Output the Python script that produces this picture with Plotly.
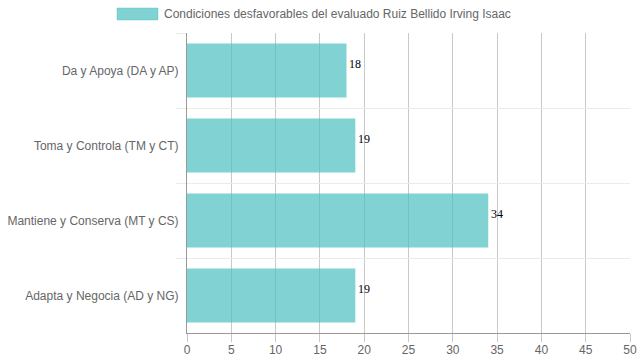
import plotly.graph_objects as go

categories = ["Da y Apoya (DA y AP)", "Toma y Controla (TM y CT)",
              "Mantiene y Conserva (MT y CS)", "Adapta y Negocia (AD y NG)"]
values = [18, 19, 34, 19]
series_name = "Condiciones desfavorables del evaluado Ruiz Bellido Irving Isaac"
x_ticks = [0, 5, 10, 15, 20, 25, 30, 35, 40, 45, 50]

bar_fill = "rgba(75,192,192,0.7)"

fig = go.Figure()
fig.add_trace(go.Bar(
    y=categories, x=values, orientation="h",
    marker=dict(color=bar_fill, line=dict(width=0)),
    name=series_name, showlegend=False, cliponaxis=False, hoverinfo="skip",
))

for c, v in zip(categories, values):
    fig.add_annotation(x=v, y=c, text=str(v), showarrow=False,
                       xanchor="left", xshift=1, yshift=7,
                       font=dict(family="Liberation Serif", size=12, color="#000"))

# legend (box + label)
fig.add_shape(type="rect", xref="paper", yref="paper",
              x0=(117 - 187) / 443, x1=(158 - 187) / 443,
              y0=(333 - 20) / 300, y1=(333 - 8) / 300,
              fillcolor=bar_fill, line=dict(color="rgba(75,192,192,0.4)", width=1))
fig.add_annotation(xref="paper", yref="paper", x=(162 - 187) / 443, y=(333 - 14) / 300,
                   text=series_name, showarrow=False, xanchor="left", yanchor="middle",
                   font=dict(family="Liberation Sans", size=12, color="#666"))

fig.update_layout(
    width=639, height=360,
    margin=dict(l=187, r=9, t=33, b=27, autoexpand=False),
    plot_bgcolor="white", paper_bgcolor="white",
    bargap=0.28,
    font=dict(family="Liberation Sans", size=12, color="#666"),
    xaxis=dict(range=[0, 50], tickvals=x_ticks, showgrid=True, gridcolor="#c8c8c8",
               gridwidth=1, zeroline=False, showline=True, linecolor="#999",
               ticks="outside", ticklen=8, tickcolor="#c8c8c8", automargin=False,
               ticklabelstandoff=-2,
               tickfont=dict(family="Liberation Sans", size=12, color="#666"),
               fixedrange=True),
    yaxis=dict(autorange="reversed", tickson="boundaries", showgrid=True,
               gridcolor="#ebebeb", gridwidth=1, showline=True, linecolor="#999",
               ticks="outside", ticklen=10, tickcolor="#ebebeb", automargin=False,
               ticklabelstandoff=5,
               tickfont=dict(family="Liberation Sans", size=12, color="#666"),
               zeroline=False),
)

fig.write_html("out.html", config={"displayModeBar": False},
               post_script="document.body.style.margin='0';document.body.style.overflow='hidden';")
